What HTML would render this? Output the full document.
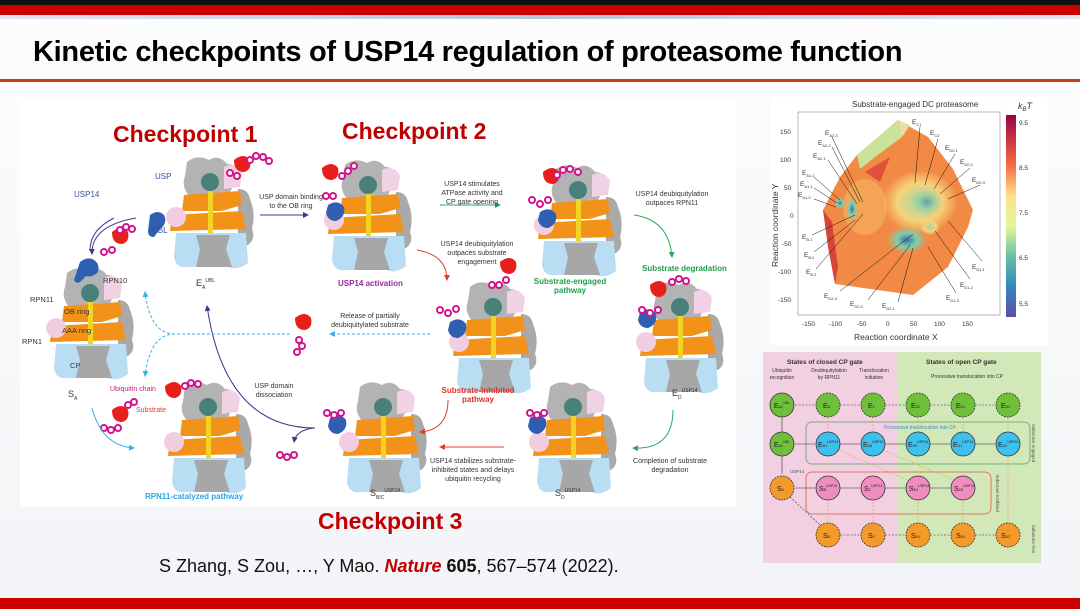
<!DOCTYPE html>
<html><head><meta charset="utf-8">
<style>
html,body{margin:0;padding:0}
body{width:1080px;height:609px;position:relative;overflow:hidden;background:linear-gradient(180deg,#fdfdfd,#f2f4f7);font-family:"Liberation Sans",Arial,sans-serif}
.abs{position:absolute}
.t{position:absolute;font-size:7px;color:#333;text-align:center;line-height:9px}
.cp{position:absolute;color:#c00000;font-weight:bold;font-size:23px}
</style></head><body>
<div class="abs" style="left:0;top:0;width:1080px;height:5px;background:#111"></div>
<div class="abs" style="left:0;top:5px;width:1080px;height:10px;background:#cc0000"></div>
<div class="abs" style="left:0;top:15px;width:1080px;height:4px;background:linear-gradient(90deg,#e0e6ee,#b9c6d8,#e0e6ee)"></div>
<div class="abs" style="left:33px;top:36px;font-size:29px;font-weight:bold;color:#000;letter-spacing:-0.3px">Kinetic checkpoints of USP14 regulation of proteasome function</div>
<div class="abs" style="left:0;top:79px;width:1080px;height:3px;background:#c8401a"></div>
<div class="abs" style="left:0;top:598px;width:1080px;height:11px;background:#cc0000"></div>

<div class="abs" style="left:20px;top:100px;width:716px;height:406px;background:#fff"></div>
<svg class="abs" style="left:0;top:0" width="1080" height="609">
<defs>
<g id="pr">
 <path d="M25 5 q10-8 22-2 q10-6 18 4 q12 0 10 14 l-8 16 l-40 2 q-8-10-4-20z" fill="#b3b3b3"/>
 <path d="M62 10 q12-6 18 6 l-2 14 l-16 2z" fill="#f0d2e4"/>
 <circle cx="48" cy="25" r="9" fill="#4a807a"/>
 <path d="M76 32 q10 0 12 10 q6 14 2 30 q4 10-4 16 l-10 0 l0-56z" fill="#a9a9a9"/>
 <path d="M22 38 l56-4 l2 14 l-20 6 l-40 0z" fill="#f39218"/>
 <path d="M10 58 l70-4 l4 18 l-76 2z" fill="#f39218"/>
 <circle cx="14" cy="60" r="10" fill="#f1cde0"/>
 <rect x="46" y="34" width="5" height="42" fill="#f4d327"/>
 <path d="M14 76 l70 0 l2 30 q-10 8-20 4 l-40 0 q-12 2-14-10z" fill="#b9def4"/>
 <path d="M34 78 l34 0 l-4 14 l6 18 l-36 0 l4-18z" fill="#a7a7a7"/>
</g>
<g id="ub"><circle r="3" fill="#fff" stroke="#d4148c" stroke-width="2"/></g>
<marker id="a1" markerWidth="6" markerHeight="6" refX="5" refY="3" orient="auto"><path d="M0,0 L6,3 L0,6z" fill="#3a3a8c"/></marker>
<marker id="a2" markerWidth="6" markerHeight="6" refX="5" refY="3" orient="auto"><path d="M0,0 L6,3 L0,6z" fill="#2aa85a"/></marker>
<marker id="a3" markerWidth="6" markerHeight="6" refX="5" refY="3" orient="auto"><path d="M0,0 L6,3 L0,6z" fill="#e0402a"/></marker>
<marker id="a4" markerWidth="6" markerHeight="6" refX="5" refY="3" orient="auto"><path d="M0,0 L6,3 L0,6z" fill="#35b2e6"/></marker>
</defs>
<use href="#pr" x="42" y="268"/>
<use href="#pr" x="162" y="157"/>
<use href="#pr" x="320" y="160"/>
<use href="#pr" x="530" y="165"/>
<use href="#pr" x="632" y="282"/>
<use href="#pr" x="445" y="282"/>
<use href="#pr" x="160" y="382"/>
<use href="#pr" x="335" y="382"/>
<use href="#pr" x="525" y="382"/>
<path d="M80 262 q8-6 14-2 q6 4 4 12 q-6 6-12 4 l-6 6 q-4 2-6-2z" fill="#2f5fb0"/>
<path d="M150 215 q8-6 14 0 q4 8-4 14 l-6 8 q-6 0-6-6z" fill="#2f5fb0"/>
<path d="M328 205 q10-6 16 2 q2 10-8 14 q-8 0-10-8z" fill="#2f5fb0"/>
<path d="M540 212 q10-6 16 2 q2 10-8 14 q-8 0-10-8z" fill="#2f5fb0"/>
<path d="M450 322 q10-6 16 2 q2 10-8 14 q-8 0-10-8z" fill="#2f5fb0"/>
<path d="M640 312 q10-6 16 2 q2 10-8 14 q-8 0-10-8z" fill="#2f5fb0"/>
<path d="M330 418 q10-6 16 2 q2 10-8 14 q-8 0-10-8z" fill="#2f5fb0"/>
<path d="M530 418 q10-6 16 2 q2 10-8 14 q-8 0-10-8z" fill="#2f5fb0"/>
<path d="M112 232 q10-8 16 0 q2 10-6 12 q-10 0-10-12z" fill="#e8201c"/>
<path d="M234 160 q10-8 16 0 q2 10-6 12 q-10 0-10-12z" fill="#e8201c"/>
<path d="M322 168 q10-8 16 0 q2 10-6 12 q-10 0-10-12z" fill="#e8201c"/>
<path d="M543 172 q10-8 16 0 q2 10-6 12 q-10 0-10-12z" fill="#e8201c"/>
<path d="M500 262 q10-8 16 0 q2 10-6 12 q-10 0-10-12z" fill="#e8201c"/>
<path d="M650 285 q10-8 16 0 q2 10-6 12 q-10 0-10-12z" fill="#e8201c"/>
<path d="M295 318 q10-8 16 0 q2 10-6 12 q-10 0-10-12z" fill="#e8201c"/>
<path d="M112 410 q10-8 16 0 q2 10-6 12 q-10 0-10-12z" fill="#e8201c"/>
<path d="M165 386 q10-8 16 0 q2 10-6 12 q-10 0-10-12z" fill="#e8201c"/>
<g>
<use href="#ub" x="104" y="252"/><use href="#ub" x="112" y="250"/><use href="#ub" x="120" y="230"/><use href="#ub" x="126" y="227"/><use href="#ub" x="132" y="229"/>
<use href="#ub" x="250" y="160"/><use href="#ub" x="256" y="156"/><use href="#ub" x="263" y="157"/><use href="#ub" x="269" y="161"/><use href="#ub" x="230" y="173"/><use href="#ub" x="237" y="176"/>
<use href="#ub" x="342" y="176"/><use href="#ub" x="348" y="171"/><use href="#ub" x="354" y="166"/><use href="#ub" x="326" y="196"/><use href="#ub" x="333" y="196"/>
<use href="#ub" x="557" y="175"/><use href="#ub" x="563" y="170"/><use href="#ub" x="570" y="169"/><use href="#ub" x="578" y="172"/><use href="#ub" x="532" y="200"/><use href="#ub" x="540" y="204"/><use href="#ub" x="548" y="200"/>
<use href="#ub" x="492" y="285"/><use href="#ub" x="499" y="285"/><use href="#ub" x="506" y="280"/><use href="#ub" x="440" y="310"/><use href="#ub" x="448" y="313"/><use href="#ub" x="456" y="309"/>
<use href="#ub" x="672" y="282"/><use href="#ub" x="679" y="279"/><use href="#ub" x="686" y="281"/><use href="#ub" x="642" y="310"/><use href="#ub" x="650" y="313"/><use href="#ub" x="658" y="310"/>
<use href="#ub" x="299" y="340"/><use href="#ub" x="302" y="346"/><use href="#ub" x="297" y="352"/>
<use href="#ub" x="104" y="428"/><use href="#ub" x="111" y="430"/><use href="#ub" x="118" y="428"/><use href="#ub" x="128" y="405"/><use href="#ub" x="134" y="402"/>
<use href="#ub" x="185" y="386"/><use href="#ub" x="191" y="383"/><use href="#ub" x="198" y="384"/>
<use href="#ub" x="327" y="413"/><use href="#ub" x="334" y="415"/><use href="#ub" x="341" y="413"/>
<use href="#ub" x="280" y="455"/><use href="#ub" x="287" y="457"/><use href="#ub" x="294" y="455"/>
<use href="#ub" x="530" y="413"/><use href="#ub" x="537" y="415"/><use href="#ub" x="544" y="413"/>
</g>
<path d="M260 215 L308 215" stroke="#3a3a8c" stroke-width="1" fill="none" marker-end="url(#a1)"/>
<path d="M440 205 L500 205" stroke="#2aa85a" stroke-width="1" fill="none" marker-end="url(#a2)"/>
<path d="M634 215 q35 5 38 42" stroke="#2aa85a" stroke-width="1" fill="none" marker-end="url(#a2)"/>
<path d="M673 410 q0 40-40 38" stroke="#2aa85a" stroke-width="1" fill="none" marker-end="url(#a2)"/>
<path d="M504 447 L440 447" stroke="#e0402a" stroke-width="1" fill="none" marker-end="url(#a3)"/>
<path d="M448 400 q0 30-28 32" stroke="#e0402a" stroke-width="1" fill="none" marker-end="url(#a3)"/>
<path d="M417 250 q30 5 30 30" stroke="#e0402a" stroke-width="1" fill="none" marker-end="url(#a3)"/>
<path d="M136 218 q-45 8-44 36" stroke="#3a3a8c" stroke-width="1" fill="none" marker-end="url(#a1)"/>
<path d="M90 250 q0-20 24-32" stroke="#3a3a8c" stroke-width="1" fill="none"/>
<path d="M315 428 q-90 0-108-122" stroke="#3a3a8c" stroke-width="1" fill="none" marker-end="url(#a1)"/>
<path d="M314 428 q-18 2-20 14" stroke="#3a3a8c" stroke-width="1" fill="none" marker-end="url(#a1)"/>
<path d="M430 334 L330 334" stroke="#35b2e6" stroke-width="1" stroke-dasharray="3,2" fill="none" marker-end="url(#a4)"/>
<path d="M290 334 L175 334 q-25 0-30-42" stroke="#35b2e6" stroke-width="1" stroke-dasharray="3,2" fill="none" marker-end="url(#a4)"/>
<path d="M175 334 q-25 0-30 42" stroke="#35b2e6" stroke-width="1" stroke-dasharray="3,2" fill="none" marker-end="url(#a4)"/>
<path d="M92 408 q10 38 42 40" stroke="#35b2e6" stroke-width="1" fill="none" marker-end="url(#a4)"/>
</svg>
<div class="cp" style="left:113px;top:121px">Checkpoint 1</div>
<div class="cp" style="left:342px;top:118px">Checkpoint 2</div>
<div class="cp" style="left:318px;top:508px">Checkpoint 3</div>
<div class="t" style="left:74px;top:190px;color:#2f4fa0;font-size:8px">USP14</div>
<div class="t" style="left:155px;top:172px;color:#2f4fa0;font-size:8px">USP</div>
<div class="t" style="left:152px;top:226px;color:#2f4fa0;font-size:8px">UBL</div>
<div class="t" style="left:103px;top:276px;font-size:7.5px">RPN10</div>
<div class="t" style="left:30px;top:295px;font-size:7.5px">RPN11</div>
<div class="t" style="left:64px;top:307px;font-size:7.5px">OB ring</div>
<div class="t" style="left:62px;top:326px;font-size:7.5px">AAA ring</div>
<div class="t" style="left:22px;top:337px;font-size:7.5px">RPN1</div>
<div class="t" style="left:70px;top:361px;font-size:7.5px">CP</div>
<div class="t" style="left:68px;top:390px;font-size:9px">S<sub style="font-size:5px">A</sub></div>
<div class="t" style="left:196px;top:277px;font-size:9px">E<sub style="font-size:5px">A</sub><sup style="font-size:5px">UBL</sup></div>
<div class="t" style="left:110px;top:385px;color:#d4148c">Ubiquitin chain</div>
<div class="t" style="left:136px;top:406px;color:#e0402a">Substrate</div>
<div class="t" style="left:256px;top:193px;width:70px">USP domain binding to the OB ring</div>
<div class="t" style="left:437px;top:180px;width:70px">USP14 stimulates ATPase activity and CP gate opening</div>
<div class="t" style="left:632px;top:190px;width:80px">USP14 deubiquitylation outpaces RPN11</div>
<div class="t" style="left:437px;top:240px;width:80px">USP14 deubiquitylation outpaces substrate engagement</div>
<div class="t" style="left:325px;top:312px;width:90px">Release of partially deubiquitylated substrate</div>
<div class="t" style="left:244px;top:382px;width:60px">USP domain dissociation</div>
<div class="t" style="left:418px;top:457px;width:110px">USP14 stabilizes substrate-inhibited states and delays ubiquitin recycling</div>
<div class="t" style="left:630px;top:457px;width:80px">Completion of substrate degradation</div>
<div class="t" style="left:338px;top:279px;color:#9a2a9a;font-weight:bold;font-size:8px">USP14 activation</div>
<div class="t" style="left:530px;top:277px;color:#1f9e4a;font-weight:bold;font-size:8px;width:80px">Substrate-engaged pathway</div>
<div class="t" style="left:642px;top:264px;color:#1f9e4a;font-weight:bold;font-size:8px">Substrate degradation</div>
<div class="t" style="left:438px;top:386px;color:#e0302a;font-weight:bold;font-size:8px;width:80px">Substrate-inhibited pathway</div>
<div class="t" style="left:145px;top:492px;color:#2aa5e0;font-weight:bold;font-size:8px">RPN11-catalyzed pathway</div>
<div class="t" style="left:370px;top:487px;font-size:9px">S<sub style="font-size:5px">B/C</sub><sup style="font-size:5px">USP14</sup></div>
<div class="t" style="left:555px;top:487px;font-size:9px">S<sub style="font-size:5px">D</sub><sup style="font-size:5px">USP14</sup></div>
<div class="t" style="left:672px;top:387px;font-size:9px">E<sub style="font-size:5px">D</sub><sup style="font-size:5px">USP14</sup></div>

<div class="abs" style="left:159px;top:556px;font-size:18px;color:#111">S Zhang, S Zou, …, Y Mao. <b style="color:#c00000;font-style:italic">Nature</b> <b>605</b>, 567–574 (2022).</div>

<div class="abs" style="left:770px;top:97px;width:278px;height:248px;background:#fff"></div>
<svg class="abs" style="left:770px;top:97px" width="278" height="248">
<defs>
<linearGradient id="cb" x1="0" y1="1" x2="0" y2="0">
<stop offset="0" stop-color="#5e4fa2"/><stop offset="0.15" stop-color="#3288bd"/><stop offset="0.3" stop-color="#66c2a5"/><stop offset="0.45" stop-color="#e6f598"/><stop offset="0.6" stop-color="#fee08b"/><stop offset="0.75" stop-color="#f46d43"/><stop offset="1" stop-color="#9e0142"/></linearGradient>
<radialGradient id="g1"><stop offset="0" stop-color="#3a6fb0"/><stop offset="0.5" stop-color="#7fcfa8"/><stop offset="1" stop-color="#7fcfa8" stop-opacity="0"/></radialGradient>
<radialGradient id="g2"><stop offset="0" stop-color="#9fd8a8"/><stop offset="0.6" stop-color="#f6d27a"/><stop offset="1" stop-color="#f6d27a" stop-opacity="0"/></radialGradient>
</defs>
<text x="82" y="10" font-size="8" fill="#333" font-family="Liberation Sans">Substrate-engaged DC proteasome</text>
<text x="248" y="12" font-size="9" fill="#333" font-style="italic" font-family="Liberation Sans">k<tspan font-size="6" dy="2">B</tspan><tspan dy="-2">T</tspan></text>
<rect x="28" y="15" width="202" height="203" fill="none" stroke="#999" stroke-width="0.7"/>
<polygon points="53,113 70,80 87,58 128,23 158,40 183,72 203,113 198,130 178,170 143,198 65,187" fill="#f28a46"/>
<polygon points="87,58 128,23 132,40 105,60 90,72" fill="#c9e49a"/>
<polygon points="128,23 140,28 132,40" fill="#e8e0a0"/>
<polygon points="53,113 62,125 68,170 65,187 58,150" fill="#d8443a"/>
<polygon points="95,75 120,60 110,85" fill="#e0503a"/>
<ellipse cx="150" cy="105" rx="38" ry="32" fill="url(#g2)"/>
<ellipse cx="95" cy="110" rx="22" ry="28" fill="#f9c46a" opacity="0.45"/>
<ellipse cx="137" cy="143" rx="20" ry="14" fill="url(#g1)"/>
<ellipse cx="157" cy="105" rx="16" ry="14" fill="url(#g1)" opacity="0.6"/>
<ellipse cx="160" cy="130" rx="10" ry="8" fill="url(#g2)"/>
<ellipse cx="82" cy="112" rx="6" ry="12" fill="url(#g1)"/>
<ellipse cx="70" cy="106" rx="6" ry="6" fill="url(#g1)"/>
<rect x="236" y="18" width="10" height="202" fill="url(#cb)"/>
<g font-size="6.5" fill="#333" font-family="Liberation Sans">
<text x="249" y="28">9.5</text><text x="249" y="73">8.5</text><text x="249" y="118">7.5</text><text x="249" y="163">6.5</text><text x="249" y="209">5.5</text>
<text x="10" y="37">150</text><text x="10" y="65">100</text><text x="14" y="93">50</text><text x="20" y="121">0</text><text x="12" y="149">-50</text><text x="8" y="177">-100</text><text x="8" y="205">-150</text>
<text x="32" y="229">-150</text><text x="59" y="229">-100</text><text x="87" y="229">-50</text><text x="116" y="229">0</text><text x="140" y="229">50</text><text x="164" y="229">100</text><text x="192" y="229">150</text>
<text x="84" y="243" font-size="8.5">Reaction coordinate X</text>
<text transform="translate(8,170) rotate(-90)" font-size="8.5">Reaction coordinate Y</text>
<text x="55" y="38">E<tspan font-size="4" dy="2">A2.3</tspan></text>
<text x="48" y="48">E<tspan font-size="4" dy="2">A2.2</tspan></text>
<text x="43" y="61">E<tspan font-size="4" dy="2">A2.1</tspan></text>
<text x="32" y="78">E<tspan font-size="4" dy="2">A1.2</tspan></text>
<text x="30" y="89">E<tspan font-size="4" dy="2">A1.1</tspan></text>
<text x="28" y="100">E<tspan font-size="4" dy="2">A1.0</tspan></text>
<text x="32" y="142">E<tspan font-size="4" dy="2">B.1</tspan></text>
<text x="34" y="160">E<tspan font-size="4" dy="2">B.2</tspan></text>
<text x="36" y="177">E<tspan font-size="4" dy="2">B.3</tspan></text>
<text x="142" y="27">E<tspan font-size="4" dy="2">C1</tspan></text>
<text x="160" y="38">E<tspan font-size="4" dy="2">C2</tspan></text>
<text x="175" y="53">E<tspan font-size="4" dy="2">D0.1</tspan></text>
<text x="190" y="67">E<tspan font-size="4" dy="2">D0.2</tspan></text>
<text x="202" y="85">E<tspan font-size="4" dy="2">D0.3</tspan></text>
<text x="202" y="172">E<tspan font-size="4" dy="2">D1.1</tspan></text>
<text x="190" y="190">E<tspan font-size="4" dy="2">D1.2</tspan></text>
<text x="176" y="203">E<tspan font-size="4" dy="2">D1.3</tspan></text>
<text x="54" y="201">E<tspan font-size="4" dy="2">D2.3</tspan></text>
<text x="80" y="209">E<tspan font-size="4" dy="2">D2.2</tspan></text>
<text x="112" y="211">E<tspan font-size="4" dy="2">D2.1</tspan></text>
</g>
<g stroke="#111" stroke-width="0.5">
<line x1="150" y1="30" x2="145" y2="86"/><line x1="168" y1="42" x2="155" y2="88"/><line x1="185" y1="57" x2="164" y2="92"/><line x1="200" y1="71" x2="170" y2="97"/><line x1="210" y1="88" x2="178" y2="102"/>
<line x1="212" y1="164" x2="178" y2="124"/><line x1="200" y1="182" x2="165" y2="134"/><line x1="186" y1="196" x2="158" y2="150"/>
<line x1="70" y1="194" x2="143" y2="137"/><line x1="98" y1="203" x2="140" y2="148"/><line x1="128" y1="205" x2="143" y2="151"/>
<line x1="62" y1="40" x2="93" y2="105"/><line x1="62" y1="50" x2="90" y2="105"/><line x1="58" y1="63" x2="87" y2="107"/>
<line x1="44" y1="80" x2="70" y2="103"/><line x1="44" y1="91" x2="67" y2="106"/><line x1="44" y1="102" x2="66" y2="110"/>
<line x1="42" y1="138" x2="85" y2="118"/><line x1="44" y1="155" x2="85" y2="123"/><line x1="46" y1="172" x2="93" y2="117"/>
</g>
</svg>

<div class="abs" style="left:763px;top:352px;width:135px;height:211px;background:#f2cfe1"></div>
<div class="abs" style="left:898px;top:352px;width:143px;height:211px;background:#d2e8b8"></div>
<svg class="abs" style="left:760px;top:345px" width="290" height="222">
<g font-family="Liberation Sans" fill="#333">
<text x="27" y="19" font-size="6.5" font-weight="bold">States of closed CP gate</text>
<text x="166" y="19" font-size="6.5" font-weight="bold">States of open CP gate</text>
<text x="22" y="27" font-size="5" text-anchor="middle">Ubiquitin</text><text x="22" y="34" font-size="5" text-anchor="middle">recognition</text>
<text x="69" y="27" font-size="5" text-anchor="middle">Deubiquitylation</text><text x="69" y="34" font-size="5" text-anchor="middle">by RPN11</text>
<text x="114" y="27" font-size="5" text-anchor="middle">Translocation</text><text x="114" y="34" font-size="5" text-anchor="middle">initiation</text>
<text x="207" y="33" font-size="5" text-anchor="middle">Processive translocation into CP</text>
</g>
<rect x="46" y="77" width="224" height="42" rx="6" fill="none" stroke="#5aa060" stroke-width="0.8"/>
<text x="160" y="84" font-size="5" fill="#3a8ad0" text-anchor="middle" font-family="Liberation Sans">Processive translocation into CP</text>
<rect x="46" y="127" width="185" height="42" rx="6" fill="none" stroke="#e05a3a" stroke-width="0.8"/>
<g stroke="#e89a4a" stroke-width="0.6" stroke-dasharray="2,1.5">
<line x1="68" y1="72" x2="68" y2="88"/><line x1="113" y1="72" x2="113" y2="88"/><line x1="158" y1="72" x2="158" y2="88"/><line x1="203" y1="72" x2="203" y2="88"/><line x1="248" y1="72" x2="248" y2="178"/>
<line x1="68" y1="150" x2="68" y2="178"/><line x1="113" y1="150" x2="113" y2="178"/><line x1="158" y1="150" x2="158" y2="178"/><line x1="203" y1="150" x2="203" y2="178"/>
<line x1="78" y1="105" x2="150" y2="136"/><line x1="123" y1="105" x2="196" y2="136"/>
</g>
<g stroke="#333" stroke-width="0.6" stroke-dasharray="2,1.5">
<line x1="35" y1="60" x2="55" y2="60"/><line x1="80" y1="60" x2="100" y2="60"/><line x1="125" y1="60" x2="145" y2="60"/><line x1="170" y1="60" x2="190" y2="60"/><line x1="215" y1="60" x2="235" y2="60"/>
<line x1="170" y1="190" x2="190" y2="190"/><line x1="215" y1="190" x2="235" y2="190"/><line x1="80" y1="190" x2="100" y2="190"/><line x1="125" y1="190" x2="145" y2="190"/>
<line x1="30" y1="152" x2="60" y2="180"/>
</g>
<g stroke="#333" stroke-width="0.6">
<line x1="22" y1="72" x2="22" y2="87"/><line x1="22" y1="111" x2="22" y2="129"/>
<line x1="35" y1="99" x2="55" y2="99"/><line x1="80" y1="99" x2="100" y2="99"/><line x1="125" y1="99" x2="145" y2="99"/><line x1="170" y1="99" x2="190" y2="99"/><line x1="215" y1="99" x2="235" y2="99"/>
<line x1="35" y1="143" x2="55" y2="143"/><line x1="80" y1="143" x2="100" y2="143"/><line x1="125" y1="143" x2="145" y2="143"/><line x1="170" y1="143" x2="190" y2="143"/>
</g>
<g stroke="#333" stroke-width="0.8" stroke-dasharray="2,1">
<circle cx="22" cy="60" r="12" fill="#6fbf3a" stroke-dasharray="none"/><circle cx="68" cy="60" r="12" fill="#6fbf3a"/><circle cx="113" cy="60" r="12" fill="#6fbf3a"/><circle cx="158" cy="60" r="12" fill="#6fbf3a"/><circle cx="203" cy="60" r="12" fill="#6fbf3a"/><circle cx="248" cy="60" r="12" fill="#6fbf3a"/>
<circle cx="22" cy="99" r="12" fill="#6fbf3a" stroke-dasharray="none"/><circle cx="68" cy="99" r="12" fill="#3cc0ee" stroke-dasharray="none"/><circle cx="113" cy="99" r="12" fill="#3cc0ee" stroke-dasharray="none"/><circle cx="158" cy="99" r="12" fill="#3cc0ee" stroke-dasharray="none"/><circle cx="203" cy="99" r="12" fill="#3cc0ee" stroke-dasharray="none"/><circle cx="248" cy="99" r="12" fill="#3cc0ee" stroke-dasharray="none"/>
<circle cx="22" cy="143" r="12" fill="#f39a2a"/><circle cx="68" cy="143" r="12" fill="#f08cc0" stroke-dasharray="none"/><circle cx="113" cy="143" r="12" fill="#f08cc0" stroke-dasharray="none"/><circle cx="158" cy="143" r="12" fill="#f08cc0" stroke-dasharray="none"/><circle cx="203" cy="143" r="12" fill="#f08cc0" stroke-dasharray="none"/>
<circle cx="68" cy="190" r="12" fill="#f39a2a"/><circle cx="113" cy="190" r="12" fill="#f39a2a"/><circle cx="158" cy="190" r="12" fill="#f39a2a"/><circle cx="203" cy="190" r="12" fill="#f39a2a"/><circle cx="248" cy="190" r="12" fill="#f39a2a"/>
</g>
<g font-family="Liberation Sans" font-size="7" fill="#222">
<text x="14" y="63">E<tspan font-size="3.5">A2</tspan><tspan font-size="3.5" dy="-4">UBL</tspan></text>
<text x="63" y="63">E<tspan font-size="3.5">B</tspan></text><text x="108" y="63">E<tspan font-size="3.5">C</tspan></text><text x="151" y="63">E<tspan font-size="3.5">D0</tspan></text><text x="196" y="63">E<tspan font-size="3.5">D1</tspan></text><text x="241" y="63">E<tspan font-size="3.5">D2</tspan></text>
<text x="14" y="102">E<tspan font-size="3.5">A1</tspan><tspan font-size="3.5" dy="-4">UBL</tspan></text>
<text x="58" y="102">E<tspan font-size="3.5">D4</tspan><tspan font-size="3.5" dy="-4">USP14</tspan></text><text x="103" y="102">E<tspan font-size="3.5">D5</tspan><tspan font-size="3.5" dy="-4">USP14</tspan></text><text x="148" y="102">E<tspan font-size="3.5">D0</tspan><tspan font-size="3.5" dy="-4">USP14</tspan></text><text x="193" y="102">E<tspan font-size="3.5">D1</tspan><tspan font-size="3.5" dy="-4">USP14</tspan></text><text x="238" y="102">E<tspan font-size="3.5">D2</tspan><tspan font-size="3.5" dy="-4">USP14</tspan></text>
<text x="17" y="146">S<tspan font-size="3.5">A</tspan></text>
<text x="59" y="146">S<tspan font-size="3.5">B</tspan><tspan font-size="3.5" dy="-4">USP14</tspan></text><text x="104" y="146">S<tspan font-size="3.5">C</tspan><tspan font-size="3.5" dy="-4">USP14</tspan></text><text x="149" y="146">S<tspan font-size="3.5">D4</tspan><tspan font-size="3.5" dy="-4">USP14</tspan></text><text x="194" y="146">S<tspan font-size="3.5">D5</tspan><tspan font-size="3.5" dy="-4">USP14</tspan></text>
<text x="63" y="193">S<tspan font-size="3.5">B</tspan></text><text x="108" y="193">S<tspan font-size="3.5">C</tspan></text><text x="151" y="193">S<tspan font-size="3.5">D1</tspan></text><text x="196" y="193">S<tspan font-size="3.5">D3</tspan></text><text x="241" y="193">S<tspan font-size="3.5">D2</tspan></text>
<text x="30" y="128" font-size="4.5" fill="#555">USP14</text>
<text transform="translate(272,98) rotate(90)" font-size="4.5" fill="#555" text-anchor="middle">Substrate-engaged</text>
<text transform="translate(236,148) rotate(90)" font-size="4.5" fill="#555" text-anchor="middle">Substrate-inhibited</text>
<text transform="translate(272,194) rotate(90)" font-size="4.5" fill="#555" text-anchor="middle">Substrate-free</text>
</g>
</svg>
</body></html>
